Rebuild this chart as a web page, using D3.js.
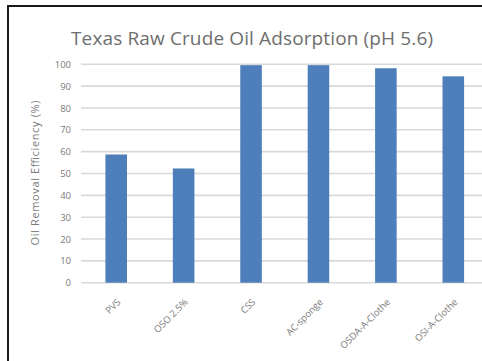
<!DOCTYPE html>
<html>
<head>
<meta charset="utf-8">
<script src="https://cdn.jsdelivr.net/npm/d3@7"></script>
<style>
  html, body { margin: 0; padding: 0; background: #fff; overflow: hidden; }
  svg { display: block; }
  text { font-family: "Open Sans", "Liberation Sans", sans-serif; fill: #595959; }
</style>
</head>
<body>
<svg id="chart" width="482" height="361"></svg>
<script>
// Oil removal efficiency by adsorbent, Texas raw crude at pH 5.6
const categories = ["PVS", "OSO 2.5%", "CSS", "AC-sponge", "OSDA-A-Clothe", "OSI-A-Clothe"];
const efficiency = [58.7, 52.3, 99.6, 99.6, 98.2, 94.5];
const yTicks = [0, 10, 20, 30, 40, 50, 60, 70, 80, 90, 100];
const titleText = "Texas Raw Crude Oil Adsorption (pH 5.6)";
const yAxisTitle = "Oil Removal Efficiency (%)";

const svg = d3.select("#chart");

// chart frame: only the left and top edges fall inside the view
const frame = svg.append("g")
  .attr("stroke", "#1a1a1a")
  .attr("stroke-width", 2);
frame.append("line").attr("x1", 8).attr("x2", 8).attr("y1", 5).attr("y2", 361);
frame.append("line").attr("x1", 7).attr("x2", 482).attr("y1", 6).attr("y2", 6);

const plot = { left: 82.5, right: 487, top: 64.3, bottom: 282.7 };

const x = d3.scaleBand()
  .domain(categories)
  .range([plot.left, plot.right])
  .paddingInner(0.68)
  .paddingOuter(0.34);

const y = d3.scaleLinear()
  .domain([0, 100])
  .range([plot.bottom, plot.top]);

// horizontal gridlines
svg.append("g")
  .selectAll("line")
  .data(yTicks)
  .join("line")
  .attr("x1", 81).attr("x2", 490)
  .attr("y1", d => y(d)).attr("y2", d => y(d))
  .attr("stroke", "#d9d9d9")
  .attr("stroke-width", 1.6);

// y tick labels
const yAxis = d3.axisLeft(y).tickValues(yTicks).tickSize(0).tickPadding(0);
const gy = svg.append("g")
  .attr("transform", `translate(71,0)`)
  .call(yAxis);
gy.select(".domain").remove();
gy.selectAll("text")
  .attr("font-size", 9.5)
  .style("fill", "#7a7a7a")
  .style("font-family", "'Open Sans', 'Liberation Sans', sans-serif");

// bars
svg.append("g")
  .selectAll("rect")
  .data(categories.map((c, i) => ({ c, v: efficiency[i] })))
  .join("rect")
  .attr("x", d => x(d.c))
  .attr("width", x.bandwidth())
  .attr("y", d => y(d.v))
  .attr("height", d => y(0) - y(d.v))
  .attr("fill", "#4e7fbb");

// category labels, rotated
const xAxis = d3.axisBottom(x).tickSize(0).tickPadding(0);
const gx = svg.append("g")
  .attr("transform", `translate(0,${plot.bottom})`)
  .call(xAxis);
gx.select(".domain").remove();
gx.selectAll("text")
  .attr("font-size", 9.5)
  .style("fill", "#7a7a7a")
  .style("font-family", "'Open Sans', 'Liberation Sans', sans-serif")
  .attr("text-anchor", "end")
  .attr("dy", 0)
  .attr("transform", "translate(5,20) rotate(-45)");

// title
svg.append("text")
  .attr("x", 252)
  .attr("y", 45)
  .attr("text-anchor", "middle")
  .attr("font-size", 19)
  .attr("textLength", 362)
  .attr("lengthAdjust", "spacing")
  .style("fill", "#6e6e6e")
  .text(titleText);

// y axis title
svg.append("text")
  .attr("transform", "translate(39,173) rotate(-90)")
  .attr("text-anchor", "middle")
  .attr("font-size", 11)
  .attr("textLength", 145)
  .attr("lengthAdjust", "spacing")
  .style("fill", "#7a7a7a")
  .text(yAxisTitle);
</script>
</body>
</html>
